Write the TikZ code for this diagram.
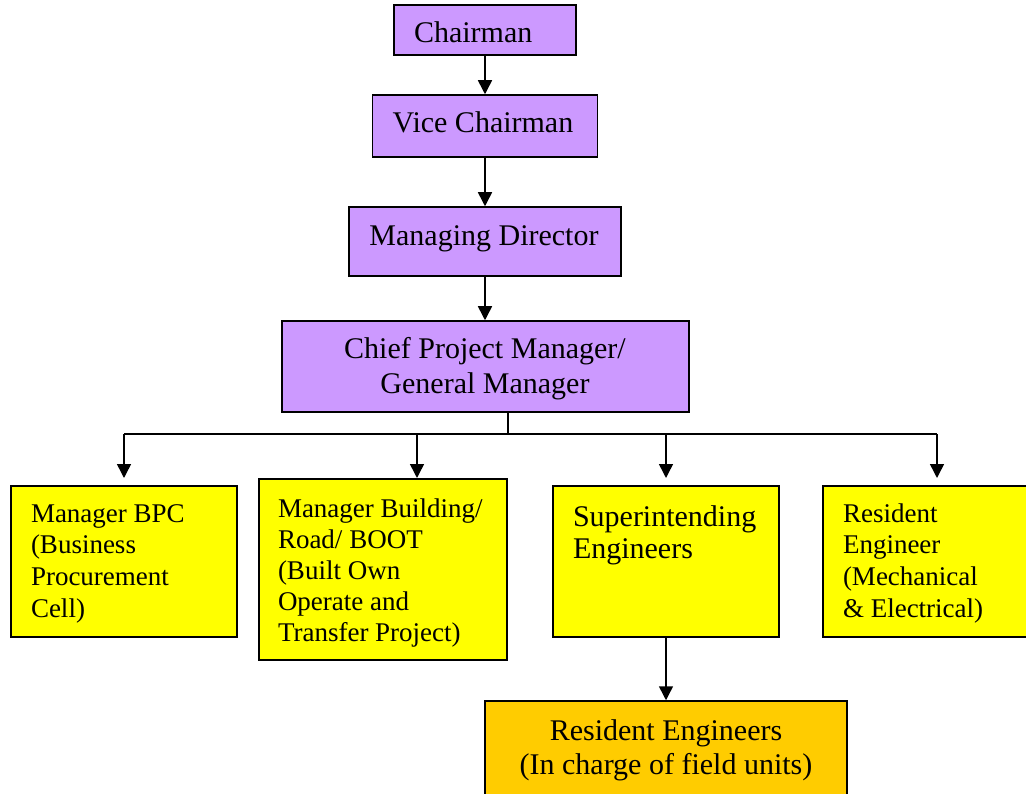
\documentclass[tikz,border=0pt]{standalone}
\usepackage{fontspec}
\setmainfont{Liberation Serif}
\usetikzlibrary{arrows.meta}
\definecolor{lilac}{HTML}{CC99FF}
\definecolor{yell}{HTML}{FFFF00}
\definecolor{amber}{HTML}{FFCC00}
\newcommand\fbig{\fontsize{30}{34}\selectfont}
\newcommand\fsmall{\fontsize{27}{31.7}\selectfont}
\tikzset{
  orgbox/.style={draw=black, line width=1.5pt, rectangle, inner sep=0pt},
  lbl/.style={inner sep=0pt, outer sep=0pt},
  conn/.style={draw=black, line width=1.5pt},
  arr/.style={conn, -{Triangle[width=14pt,length=14pt]}}
}
\begin{document}
\begin{tikzpicture}[x=1pt,y=-1pt]
\useasboundingbox (0,0) rectangle (1026,794);
\clip (0,0) rectangle (1026,794);
\fill[white] (0,0) rectangle (1026,794);
% boxes
\node[orgbox, fill=lilac, minimum width=182pt, minimum height=50pt] (chair) at (485,30) {};
\node[orgbox, fill=lilac, minimum width=225pt, minimum height=62pt] (vice) at (485,126) {};
\node[orgbox, fill=lilac, minimum width=272pt, minimum height=69pt] (md) at (485,241.5) {};
\node[orgbox, fill=lilac, minimum width=407pt, minimum height=91pt] (cpm) at (485.5,366.5) {};
\node[orgbox, fill=yell, minimum width=226pt, minimum height=151pt] (bpc) at (124,561.5) {};
\node[orgbox, fill=yell, minimum width=248pt, minimum height=181pt] (bld) at (383,569.5) {};
\node[orgbox, fill=yell, minimum width=226pt, minimum height=151pt] (se) at (666,561.5) {};
\node[orgbox, fill=yell, minimum width=226pt, minimum height=151pt] (re) at (936,561.5) {};
\node[orgbox, fill=amber, minimum width=362pt, minimum height=120pt] (rese) at (666,761) {};
% texts
\node[lbl, anchor=base west] (chairT) at (414,43) {\fbig Chairman};
\node[lbl, anchor=base] (viceT) at (483,133) {\fbig Vice Chairman};
\node[lbl, anchor=base] (mdT) at (484,246) {\fbig Managing Director};
\node[lbl, anchor=base] (cpmT) at (485,359) {\parbox[t]{400pt}{\fontsize{30}{35}\selectfont\centering Chief Project Manager/\\General Manager}};
\node[lbl, anchor=base west] (bpcT) at (31,522) {\parbox[t]{200pt}{\fsmall\raggedright Manager BPC\\(Business\\Procurement\\Cell)}};
\node[lbl, anchor=base west] (bldT) at (278,517) {\parbox[t]{225pt}{\fontsize{27}{31}\selectfont\raggedright Manager Building/\\Road/ BOOT\\(Built Own\\Operate and\\Transfer Project)}};
\node[lbl, anchor=base west] (seT) at (573,526) {\parbox[t]{200pt}{\fontsize{30}{32}\selectfont\raggedright Superintending\\Engineers}};
\node[lbl, anchor=base west] (reT) at (843,522) {\parbox[t]{180pt}{\fsmall\raggedright Resident\\Engineer\\(Mechanical\\\& Electrical)}};
\node[lbl, anchor=base] (reseT) at (666,740) {\parbox[t]{360pt}{\fbig\centering Resident Engineers\\(In charge of field units)}};
% connectors
\draw[arr] (chair.south) -- (chair.south |- vice.north);
\draw[arr] (vice.south) -- (vice.south |- md.north);
\draw[arr] (md.south) -- (md.south |- cpm.north);
\coordinate (bus) at (508,434);
\coordinate (busL) at (124,434);
\coordinate (busR) at (937,434);
\draw[conn] (bus |- cpm.south) -- (bus);
\draw[conn] (busL) -- (busR);
\coordinate (t1) at (124,478);
\coordinate (t2) at (417,478);
\coordinate (t3) at (666,478);
\coordinate (t4) at (937,478);
\draw[arr] (busL) -- (t1);
\draw[arr] (t2 |- bus) -- (t2);
\draw[arr] (t3 |- bus) -- (t3);
\draw[arr] (busR) -- (t4);
\draw[arr] (se.south) -- (se.south |- rese.north);
\end{tikzpicture}
\end{document}
